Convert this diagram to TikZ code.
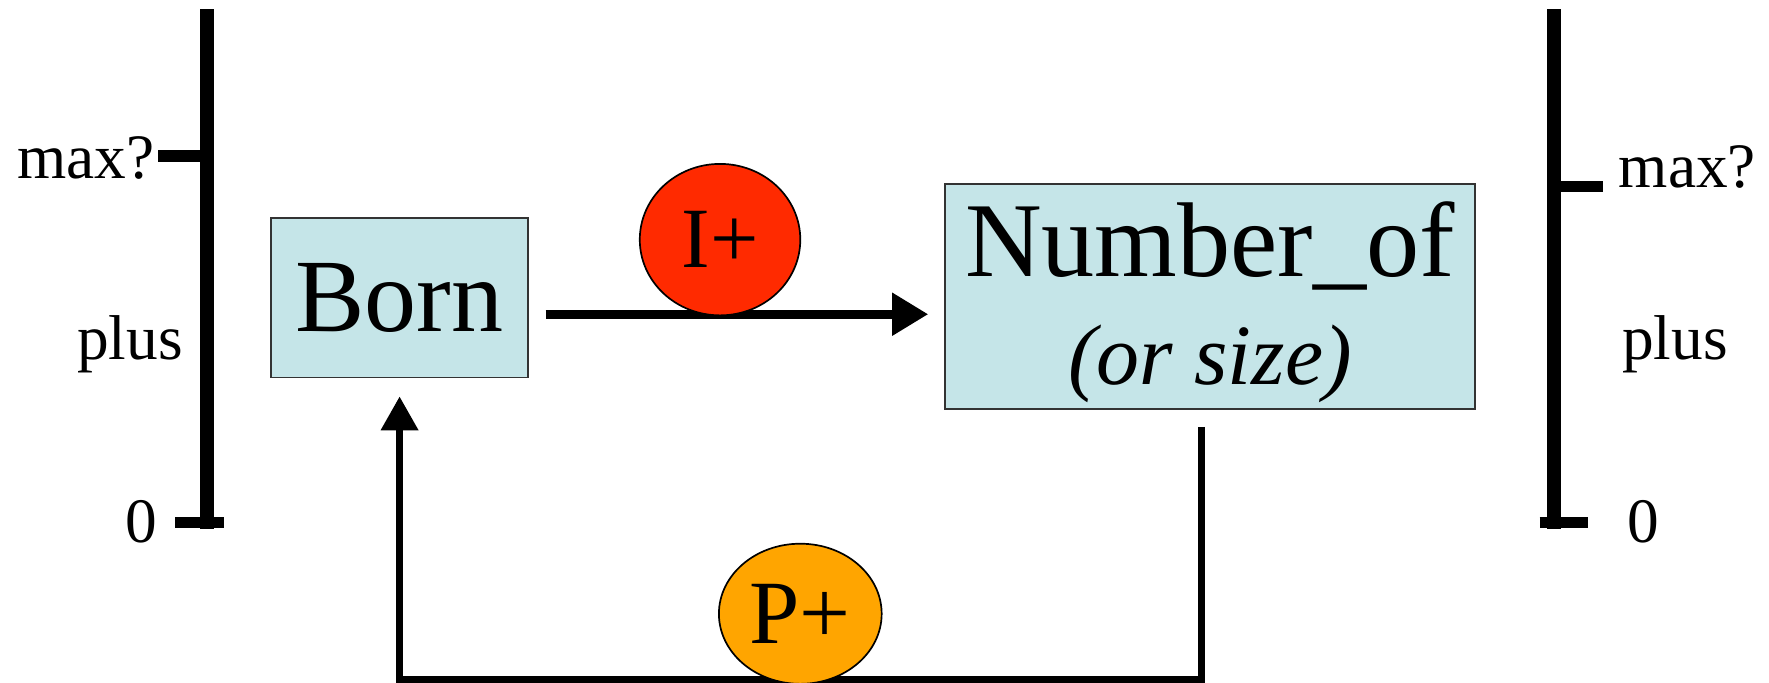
\documentclass[tikz,border=0pt]{standalone}
\usepackage{fontspec}
\setmainfont{Liberation Serif}
\usetikzlibrary{shapes.geometric,arrows.meta,calc}
\definecolor{boxfill}{HTML}{C5E5E8}
\definecolor{ired}{HTML}{FF2A00}
\definecolor{porange}{HTML}{FFA500}
\tikzset{
  qbox/.style={draw=black!80, line width=1.5pt, fill=boxfill, inner sep=0pt},
  infl/.style={ellipse, draw=black, line width=1.5pt, inner sep=0pt},
  axisline/.style={line width=12pt},
  ticklabel/.style={inner sep=0pt, font=\fontsize{56}{60}\selectfont},
}
\begin{document}
\begin{tikzpicture}[x=1pt,y=-1pt]
\useasboundingbox (0,0) rectangle (1565,604);
% left quantity space
\draw[axisline] (183,8) -- (183,468);
\draw[line width=10pt] (140,138) -- (183,138);
\draw[line width=10pt] (155,462) -- (198,462);
\node[ticklabel, anchor=east] (lmax) at (137,140) {max?};
\node[ticklabel] (lplus) at (115,305) {plus};
\node[ticklabel] (lzero) at (125,462) {0};
% right quantity space
\draw[axisline] (1375,8) -- (1375,468);
\draw[line width=10pt] (1375,165) -- (1418,165);
\draw[line width=10pt] (1362,462) -- (1405,462);
\node[ticklabel, anchor=west] (rmax) at (1432,148) {max?};
\node[ticklabel, anchor=west] (rplus) at (1435,305) {plus};
\node[ticklabel, anchor=west] (rzero) at (1440,462) {0};
% boxes
\node[qbox, minimum width=227pt, minimum height=141pt] (born) at (353.5,263.5)
  {\fontsize{92}{96}\selectfont Born};
\node[qbox, minimum width=469pt, minimum height=199pt] (num) at (1070.5,262.5) {};
\node[anchor=base, inner sep=0pt] (numtxt) at ($(num.center)+(0,-17.5)$)
  {\fontsize{94}{96}\selectfont Number\_of};
\node[anchor=base, inner sep=0pt] (numsub) at ($(num.center)+(0,77.5)$)
  {\fontsize{76}{80}\selectfont\itshape (or size)};
% I+ influence
\draw[line width=8pt, -{Triangle[length=32pt,width=36pt]}]
  ($(born.east)+(15,14.5)$) -- ($(num.west)+(-14,15.5)$);
\node[infl, fill=ired, minimum width=142pt, minimum height=134pt] (iplus) at (637,212)
  {\fontsize{76}{80}\selectfont I+};
% P+ feedback
\coordinate (fb) at (0,601);
\coordinate (pstart) at ($(num.south)+(-7.5,15)$);
\coordinate (pend) at ($(born.south)+(0,16)$);
\draw[line width=6pt, -{Triangle[length=30pt,width=32pt]}]
  (pstart) -- (pstart |- fb) -- (pend |- fb) -- (pend);
\node[infl, fill=porange, minimum width=144pt, minimum height=124pt] (pplus) at (708,543)
  {\fontsize{80}{84}\selectfont P+};
\end{tikzpicture}
\end{document}
